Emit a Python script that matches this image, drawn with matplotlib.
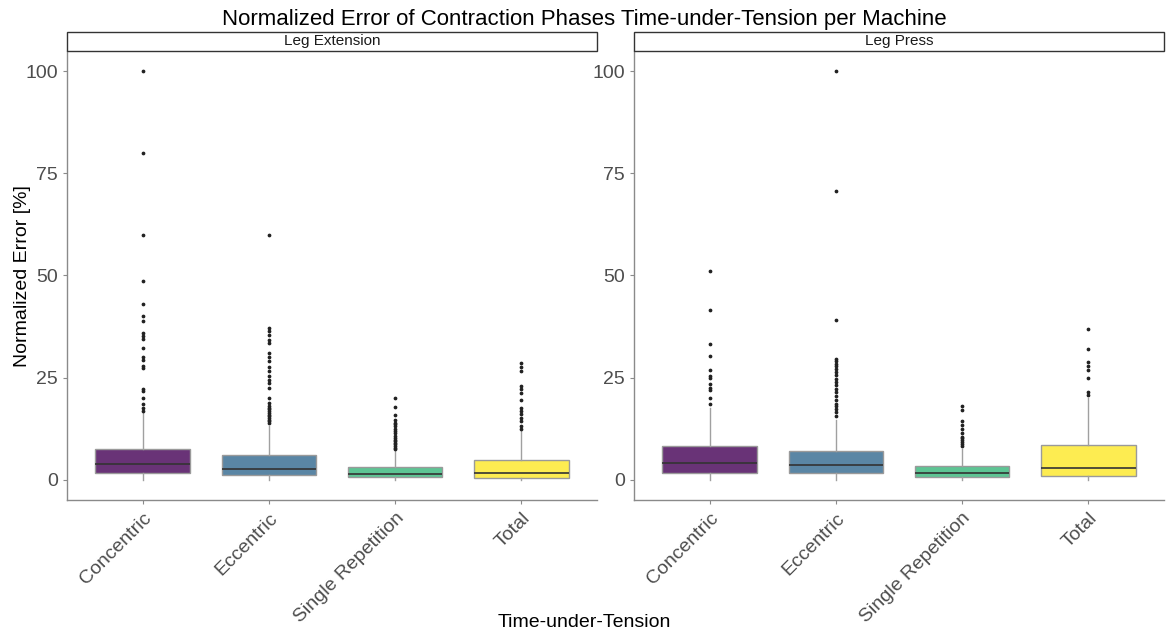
import numpy as np
import matplotlib
matplotlib.use('Agg')
import matplotlib.pyplot as plt
from matplotlib.patches import Rectangle

plt.rcParams['font.family'] = ['Liberation Sans', 'DejaVu Sans']

categories = ['Concentric', 'Eccentric', 'Single Repetition', 'Total']
machines = ['Leg Extension', 'Leg Press']
colors = ['#693377', '#5A86A5', '#5DC594', '#FDEC51']

# box statistics: per machine, per category
q1 = {'Leg Extension': [1.7, 1.2, 0.6, 0.3], 'Leg Press': [1.6, 1.5, 0.7, 0.8]}
med = {'Leg Extension': [3.9, 2.7, 1.4, 1.6], 'Leg Press': [4.1, 3.6, 1.6, 2.9]}
q3 = {'Leg Extension': [7.5, 6.0, 3.1, 4.9], 'Leg Press': [8.2, 6.9, 3.3, 8.5]}
whislo = {'Leg Extension': [0, 0, 0, 0], 'Leg Press': [0, 0, 0, 0]}
whishi = {'Leg Extension': [16.3, 13.2, 6.9, 11.8], 'Leg Press': [17.6, 14.7, 7.6, 20.1]}

fliers = {
    'Leg Extension': [
        [100, 80, 60, 48.6, 43.1, 40.0, 38.8, 35.9, 35.1, 34.5, 32.3, 30.1, 29.4,
         27.9, 27.4, 22.2, 21.6, 20.0, 18.4, 17.6, 16.9],
        [60, 37.2, 36.4, 35.4, 34.3, 33.5, 31.1, 30.1, 29.0, 27.6, 26.6, 25.3, 24.5,
         23.7, 22.5, 20.0, 18.8, 18.0, 17.5, 17.2, 16.8, 16.3, 15.9, 15.5, 15.1,
         14.7, 14.3, 13.9],
        [20.0, 17.8, 15.7, 14.7, 13.9, 13.5, 13.1, 12.5, 11.9, 11.3, 10.6, 10.2, 9.8,
         9.4, 9.0, 8.6, 8.2, 7.8, 7.4],
        [28.6, 27.6, 26.6, 23.0, 22.2, 21.2, 19.6, 17.6, 16.8, 16.0, 15.2, 14.4,
         13.1, 12.3],
    ],
    'Leg Press': [
        [51.1, 41.5, 33.3, 30.2, 26.8, 25.3, 24.9, 23.3, 22.5, 21.9, 20.0, 18.4],
        [100, 70.6, 39.2, 29.6, 29.0, 28.4, 27.8, 27.1, 26.3, 25.5, 24.7, 23.9, 23.1,
         22.2, 21.4, 20.4, 19.6, 18.6, 18.0, 17.2, 16.5, 15.5],
        [17.9, 17.0, 14.3, 13.3, 12.3, 11.4, 10.5, 10.1, 9.7, 9.1, 8.7, 8.3],
        [37.0, 32.0, 28.8, 27.7, 26.9, 24.9, 21.4, 20.6],
    ],
}

fig = plt.figure(figsize=(11.68, 6.34), dpi=100)
lefts = [0.0574, 0.5428]
width = 0.4537
bottom, top = 0.2114, 0.9196

for k, m in enumerate(machines):
    ax = fig.add_axes([lefts[k], bottom, width, top - bottom])
    stats = []
    for i in range(4):
        stats.append(dict(q1=q1[m][i], med=med[m][i], q3=q3[m][i],
                          whislo=whislo[m][i], whishi=whishi[m][i],
                          fliers=fliers[m][i]))
    bp = ax.bxp(stats, positions=range(1, 5), widths=0.75, patch_artist=True,
                showcaps=False,
                boxprops=dict(edgecolor='#9a9a9a', linewidth=1.0),
                medianprops=dict(color='#333333', linewidth=1.2),
                whiskerprops=dict(color='#a0a0a0', linewidth=1.0),
                flierprops=dict(marker='o', markersize=1.7, markerfacecolor='#222222',
                                markeredgecolor='#222222', linestyle='none'))
    for patch, c in zip(bp['boxes'], colors):
        patch.set_facecolor(c)

    ax.set_xlim(0.4, 4.6)
    ax.set_ylim(-5, 105)
    ax.set_yticks([0, 25, 50, 75, 100])
    ax.set_xticks(range(1, 5))
    ax.set_xticklabels(categories, rotation=45, ha='right', rotation_mode='anchor')
    ax.tick_params(axis='both', colors='#8a8a8a', labelcolor='#4d4d4d',
                   labelsize=14, length=3, width=0.8)
    ax.tick_params(axis='x', pad=4)
    for s in ['top', 'right']:
        ax.spines[s].set_visible(False)
    for s in ['left', 'bottom']:
        ax.spines[s].set_color('#8a8a8a')
        ax.spines[s].set_linewidth(1.0)

    # facet strip
    strip = Rectangle((lefts[k], top), width, 0.0300, transform=fig.transFigure,
                      facecolor='white', edgecolor='#333333', linewidth=1.0,
                      clip_on=False)
    fig.add_artist(strip)
    fig.text(lefts[k] + width / 2, top + 0.0150, m, ha='center', va='center',
             fontsize=11, color='#1a1a1a')

fig.text(0.019, 0.565, 'Normalized Error [%]', rotation=90, ha='center', va='center',
         fontsize=14)
fig.text(0.5, 0.970, 'Normalized Error of Contraction Phases Time-under-Tension per Machine',
         ha='center', va='center', fontsize=16)
fig.text(0.5, 0.018, 'Time-under-Tension', ha='center', va='center', fontsize=14)

fig.savefig('out.png', dpi=100, facecolor='white')
